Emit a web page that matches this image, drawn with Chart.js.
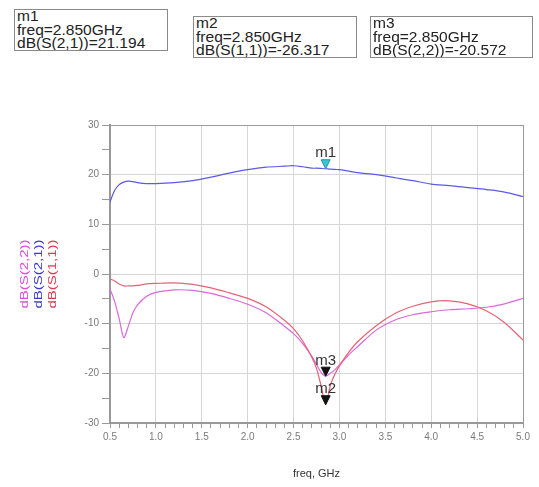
<!DOCTYPE html>
<html>
<head>
<meta charset="utf-8">
<script src="https://cdn.jsdelivr.net/npm/chart.js@4.4.1/dist/chart.umd.min.js"></script>
<style>
  body { margin: 0; background: #fff; }
  #wrap { position: relative; width: 539px; height: 487px; overflow: hidden; }
  #myChart { position: absolute; left: 0; top: 0; }
  .mbox { position: absolute; border: 1px solid #8a8a8a; background: #fff; height: 40px; overflow: hidden; }
  .mbox div { font: 14px "Liberation Sans", Arial, sans-serif; color: #222; line-height: 13.5px;
              transform: scaleX(1.11); transform-origin: left; white-space: nowrap; margin-left: 2px; }
</style>
</head>
<body>
<div id="wrap">
  <canvas id="myChart" width="539" height="487"></canvas>
</div>
<script>
// sweep points (GHz)
var freq = [0.5, 0.55, 0.6, 0.65, 0.7, 0.75, 0.8, 0.9, 1.0, 1.2, 1.4, 1.6, 1.8, 2.0, 2.2, 2.4, 2.5, 2.6, 2.7,
            2.75, 2.8, 2.85, 2.9, 2.95, 3.0, 3.1, 3.2, 3.4, 3.6, 3.8, 4.0, 4.2, 4.4, 4.6, 4.8, 5.0];
var s21 = [14.5, 16.8, 18.0, 18.5, 18.7, 18.6, 18.4, 18.2, 18.2, 18.4, 18.8, 19.5, 20.3, 21.0, 21.5, 21.7, 21.8, 21.6, 21.3,
           21.3, 21.25, 21.19, 21.1, 21.05, 21.0, 20.7, 20.4, 20.0, 19.4, 18.8, 18.1, 17.8, 17.4, 17.0, 16.5, 15.6];
var s11 = [-1.0, -1.4, -2.0, -2.4, -2.4, -2.4, -2.3, -2.0, -1.9, -1.8, -2.1, -2.8, -3.8, -4.9, -6.6, -9.3, -11.0, -13.5, -16.8,
           -19.0, -22.5, -26.3, -22.5, -20.2, -18.5, -15.8, -13.6, -10.4, -8.0, -6.5, -5.6, -5.4, -6.0, -7.4, -9.8, -13.3];
var s22 = [-3.0, -5.5, -9.0, -12.8, -10.5, -7.8, -6.2, -4.5, -3.7, -3.2, -3.3, -3.9, -4.9, -6.1, -7.8, -10.5, -12.0, -14.0, -16.6,
           -18.2, -19.8, -20.57, -20.0, -19.3, -18.3, -16.3, -14.6, -11.3, -9.3, -8.2, -7.6, -7.2, -7.0, -6.7, -6.0, -4.9];

// markers
var markerNames = ['m1', 'm2', 'm3'];
var markerTrace = ['dB(S(2,1))', 'dB(S(1,1))', 'dB(S(2,2))'];
var markerFreq = [2.850, 2.850, 2.850];
var markerValue = [21.194, -26.317, -20.572];

// trace names for the axis title, in drawing order left to right
var traceNames = ['dB(S(2,2))', 'dB(S(2,1))', 'dB(S(1,1))'];
var traceColors = ['#e048e0', '#3838d8', '#e03850'];

//marker readout boxes
var boxPos = [[14, 9, 152], [193, 16, 162], [370, 16, 161]];
var wrap = document.getElementById('wrap');
markerNames.forEach(function (n, i) {
    var b = document.createElement('div');
    b.className = 'mbox';
    b.style.left = boxPos[i][0] + 'px';
    b.style.top = boxPos[i][1] + 'px';
    b.style.width = boxPos[i][2] + 'px';
    b.innerHTML = '<div>' + n + '</div><div>freq=' + markerFreq[i].toFixed(3) + 'GHz</div><div>' +
        markerTrace[i] + '=' + markerValue[i].toFixed(3) + '</div>';
    wrap.appendChild(b);
});

function pts(arr) {
    return freq.map(function (f, i) { return { x: f, y: arr[i] }; });
}

//draws the marker triangles and the coloured y title
var extras = {
    id: 'extras',
    afterDatasetsDraw: function (chart) {
        var ctx = chart.ctx, xs = chart.scales.x, ys = chart.scales.y;
        markerNames.forEach(function (n, i) {
            var px = xs.getPixelForValue(markerFreq[i]);
            var py = ys.getPixelForValue(markerValue[i]);
            ctx.save();
            ctx.beginPath();
            ctx.moveTo(px - 4.5, py - 9);
            ctx.lineTo(px + 4.5, py - 9);
            ctx.lineTo(px, py);
            ctx.closePath();
            ctx.fillStyle = i === 0 ? '#38c8d0' : '#111';
            ctx.fill();
            ctx.strokeStyle = i === 0 ? '#2a8fb0' : '#111';
            ctx.lineWidth = 1;
            ctx.stroke();
            ctx.fillStyle = '#333';
            ctx.font = '15px "Liberation Sans", Arial, sans-serif';
            ctx.textAlign = 'center';
            ctx.textBaseline = 'bottom';
            ctx.fillText(n, px, py - 8);
            ctx.restore();
        });
    },
    afterDraw: function (chart) {
        var ctx = chart.ctx;
        var cy = (chart.chartArea.top + chart.chartArea.bottom) / 2;
        traceNames.forEach(function (t, i) {
            ctx.save();
            ctx.translate(25 + i * 14, cy);
            ctx.rotate(-Math.PI / 2);
            ctx.scale(1.5, 1);
            ctx.font = '10px "Liberation Sans", Arial, sans-serif';
            ctx.fillStyle = traceColors[i];
            ctx.textAlign = 'center';
            ctx.textBaseline = 'middle';
            ctx.fillText(t, 0, 0);
            ctx.restore();
        });
    }
};

var isMajor = function (v, step) {
    var r = v / step;
    return Math.abs(r - Math.round(r)) < 1e-6;
};

var ctx = document.getElementById('myChart').getContext('2d');
var chart = new Chart(ctx, {
    type: 'line',
    data: {
        datasets: [{
            label: 'dB(S(2,1))',
            data: pts(s21),
            borderColor: 'rgb(90, 90, 230)',
            borderWidth: 1.2,
            pointRadius: 0,
            tension: 0.3
        }, {
            label: 'dB(S(1,1))',
            data: pts(s11),
            borderColor: 'rgb(228, 100, 118)',
            borderWidth: 1.2,
            pointRadius: 0,
            tension: 0.3
        }, {
            label: 'dB(S(2,2))',
            data: pts(s22),
            borderColor: 'rgb(218, 105, 218)',
            borderWidth: 1.2,
            pointRadius: 0,
            tension: 0.3
        }]
    },
    plugins: [extras],
    options: {
        responsive: false,
        animation: false,
        layout: { padding: { left: 0, top: 125, right: 16, bottom: 6 } },
        plugins: { legend: { display: false }, tooltip: { enabled: false } },
        scales: {
            x: {
                type: 'linear',
                min: 0.5,
                max: 5.0,
                afterFit: function (s) { s.height = 58; },
                ticks: {
                    stepSize: 0.1,
                    autoSkip: false,
                    maxRotation: 0,
                    color: '#7a7a7a',
                    font: { size: 10, family: '"Liberation Sans", Arial' },
                    padding: 3,
                    callback: function (v) { return isMajor(v, 0.5) ? v.toFixed(1) : ''; }
                },
                grid: {
                    tickLength: 5,
                    color: function (c) {
                        if (!c.tick) return 'transparent';
                        if (Math.abs(c.tick.value - 5) < 1e-6) return '#999';
                        return isMajor(c.tick.value, 0.5) ? '#d6d6d6' : 'transparent';
                    },
                    tickColor: '#999'
                },
                border: { color: '#999', width: 2 },
                title: {
                    display: true,
                    text: 'freq, GHz',
                    color: '#333',
                    font: { size: 11, family: '"Liberation Sans", Arial' },
                    padding: { top: 11, bottom: 0 }
                }
            },
            y: {
                min: -30,
                max: 30,
                afterFit: function (s) { s.width = 110; },
                ticks: {
                    stepSize: 5,
                    autoSkip: false,
                    color: '#7a7a7a',
                    font: { size: 10, family: '"Liberation Sans", Arial' },
                    padding: 3,
                    callback: function (v) { return isMajor(v, 10) ? String(v) : ''; }
                },
                grid: {
                    tickLength: 8,
                    color: function (c) {
                        if (!c.tick) return 'transparent';
                        if (c.tick.value === 30) return '#999';
                        return isMajor(c.tick.value, 10) ? '#d6d6d6' : 'transparent';
                    },
                    tickColor: '#999'
                },
                border: { color: '#999', width: 2 }
            }
        }
    }
});
</script>
</body>
</html>
